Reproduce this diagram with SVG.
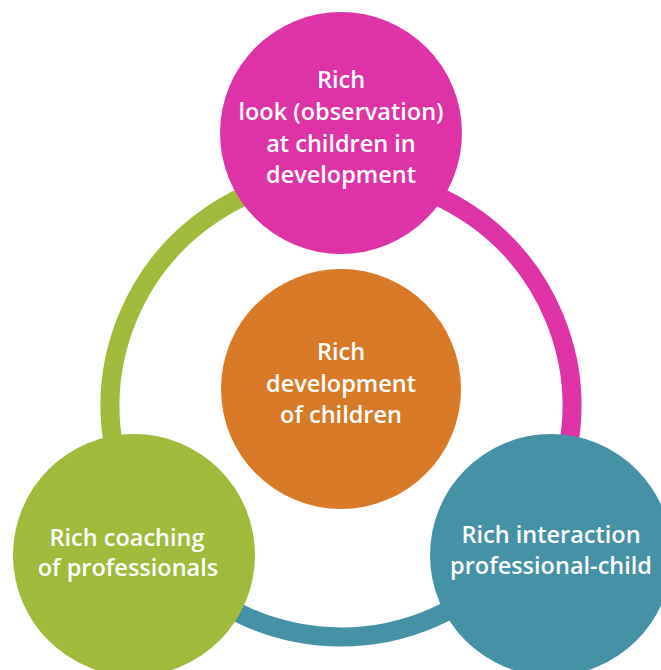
<svg xmlns="http://www.w3.org/2000/svg" width="661" height="670" viewBox="0 0 661 670">
<style>
.ring{fill:none;stroke-width:19}
.lbl{font-family:"Open Sans","Liberation Sans",sans-serif;font-weight:600;font-size:23.5px;fill:#ffffff;text-anchor:middle}
</style>
<rect x="0" y="0" width="661" height="670" fill="#ffffff"/>
<g id="connectors">
<path class="ring" stroke="#A0BB3C" d="M177.7,569.3 A231,231 0 0 1 341,175"/>
<path class="ring" stroke="#DE33A7" d="M341,175 A231,231 0 0 1 504.3,569.3"/>
<path class="ring" stroke="#4591A6" d="M504.3,569.3 A231,231 0 0 1 177.7,569.3"/>
</g>
<g id="node-observation">
<circle cx="341" cy="133" r="121" fill="#DE33A7"/>
<text class="lbl"><tspan x="341" y="88">Rich</tspan><tspan x="341" y="120">look (observation)</tspan><tspan x="341" y="152">at children in</tspan><tspan x="341" y="183">development</tspan></text>
</g>
<g id="node-development">
<circle cx="341" cy="389" r="120" fill="#D97A28"/>
<text class="lbl"><tspan x="341" y="360">Rich</tspan><tspan x="341" y="392">development</tspan><tspan x="341" y="423">of children</tspan></text>
</g>
<g id="node-coaching">
<circle cx="134" cy="555" r="121" fill="#A0BB3C"/>
<text class="lbl"><tspan x="127" y="546">Rich coaching</tspan><tspan x="128" y="576">of professionals</tspan></text>
</g>
<g id="node-interaction">
<circle cx="551" cy="555" r="121" fill="#4591A6"/>
<text class="lbl"><tspan x="551" y="543">Rich interaction</tspan><tspan x="551" y="574">professional-child</tspan></text>
</g>
</svg>
